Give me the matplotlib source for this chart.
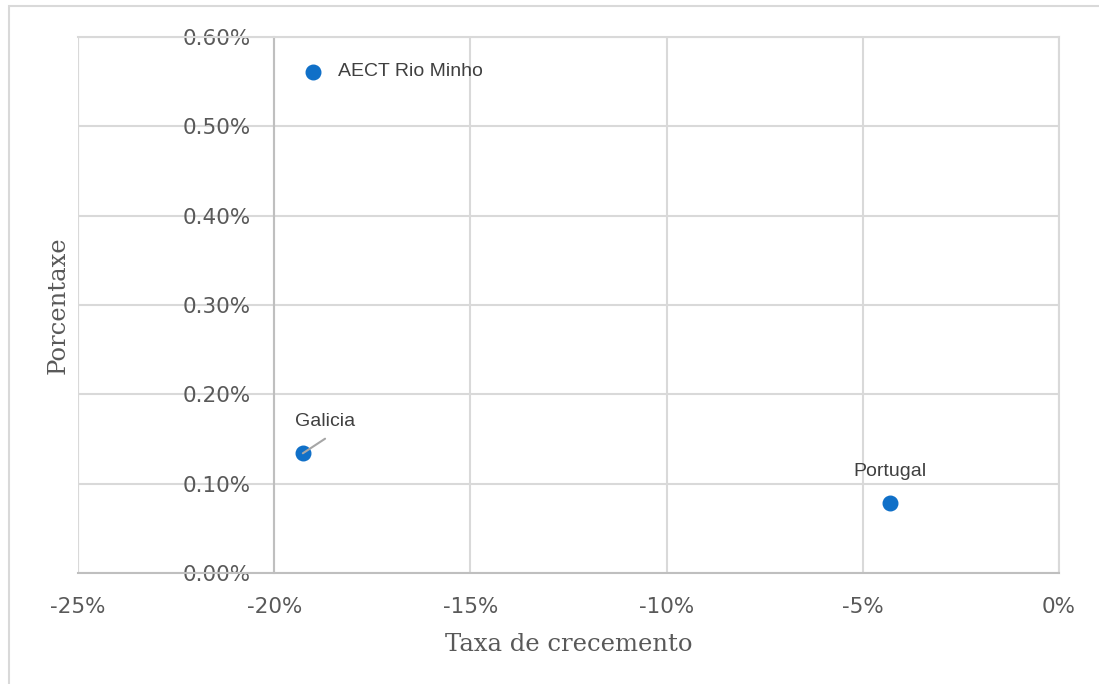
import matplotlib.pyplot as plt
from matplotlib.patches import Rectangle
from matplotlib.ticker import FuncFormatter

# Taxa de crecemento (x) vs Porcentaxe (y), both as fractions
labels = ["AECT Rio Minho", "Galicia", "Portugal"]
growth = [-0.190, -0.1927, -0.0431]
share = [0.00561, 0.00134, 0.00078]

x_ticks = [-0.25, -0.20, -0.15, -0.10, -0.05, 0.0]
y_ticks = [0.0, 0.001, 0.002, 0.003, 0.004, 0.005, 0.006]

text_col = "#595959"
grid_col = "#d9d9d9"
axis_col = "#bfbfbf"
dot_col = "#1070c8"

fig = plt.figure(figsize=(10.99, 6.84), dpi=100)
ax = fig.add_axes([78 / 1099, 1 - 573 / 684, 981 / 1099, 536 / 684])

# outer chart border (partly cut off, as in the original)
fig.patches.append(Rectangle((9 / 1099, -0.05), 1.1, 1 - 6 / 684 + 0.05,
                             transform=fig.transFigure, fill=False,
                             edgecolor=grid_col, linewidth=1.5))

ax.scatter(growth, share, s=110, color=dot_col, zorder=3)

ax.set_xlim(-0.25, 0.0)
ax.set_ylim(0.0, 0.006)
ax.set_xticks(x_ticks)
ax.set_yticks(y_ticks)
ax.xaxis.set_major_formatter(FuncFormatter(lambda v, p: f"{v * 100:.0f}%"))
ax.yaxis.set_major_formatter(FuncFormatter(lambda v, p: f"{v * 100:.2f}%"))
ax.grid(True, color=grid_col, linewidth=1.5)
ax.set_axisbelow(True)

for side in ["top", "right"]:
    ax.spines[side].set_color(grid_col)
    ax.spines[side].set_linewidth(1.5)
ax.spines["left"].set_position(("data", -0.20))
ax.spines["left"].set_color(axis_col)
ax.spines["left"].set_linewidth(1.5)
ax.spines["bottom"].set_color(axis_col)
ax.spines["bottom"].set_linewidth(1.5)
ax.tick_params(axis="both", length=0, labelcolor=text_col, labelsize=15.5)
ax.tick_params(axis="y", pad=17)
ax.tick_params(axis="x", pad=17)

# left edge of the plot area at -25%
ax.axvline(-0.25, color=grid_col, linewidth=1.5, zorder=0)

ax.set_xlabel("Taxa de crecemento", family="DejaVu Serif", fontsize=17.5,
              color=text_col, labelpad=12)
ax.set_ylabel("Porcentaxe", family="DejaVu Serif", fontsize=17.5,
              color=text_col)
ax.yaxis.set_label_coords((70 - 78) / 981, 0.5)

lab_font = ["Liberation Sans Narrow", "Liberation Sans", "DejaVu Sans"]
ax.annotate(labels[0], (growth[0], share[0]), xytext=(18, 0),
            textcoords="offset points", fontsize=14, family=lab_font,
            color="#404040", va="center", ha="left")
ax.annotate(labels[1], (growth[1], share[1]), xytext=(16, 23),
            textcoords="offset points", fontsize=14, family=lab_font,
            color="#404040", va="center", ha="center")
# leader line for Galicia
ax.annotate("", (growth[1], share[1]), xytext=(16, 10.5),
            textcoords="offset points",
            arrowprops=dict(arrowstyle="-", color="#a6a6a6", lw=1.5,
                            shrinkA=0, shrinkB=0))
ax.annotate(labels[2], (growth[2], share[2]), xytext=(0, 23),
            textcoords="offset points", fontsize=14, family=lab_font,
            color="#404040", va="center", ha="center")

fig.savefig("out.png", dpi=100)
